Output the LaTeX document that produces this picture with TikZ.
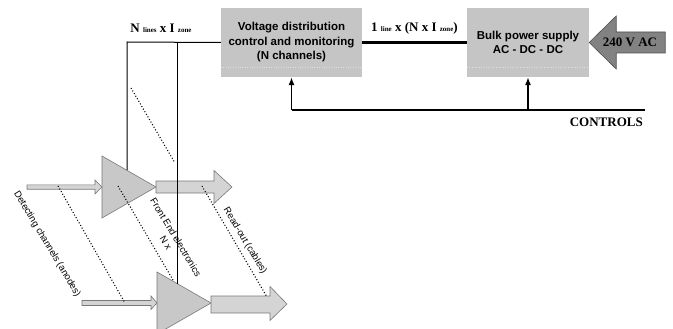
\documentclass[tikz,border=0pt]{standalone}
\usepackage{fontspec}
\setmainfont{Liberation Serif}
\setsansfont{Liberation Sans}
\usetikzlibrary{arrows.meta}

\definecolor{boxgray}{RGB}{197,197,197}
\definecolor{acgray}{RGB}{130,130,130}
\definecolor{ampgray}{RGB}{200,200,200}
\definecolor{pipegray}{RGB}{212,212,212}
\definecolor{rimgray}{RGB}{120,120,120}

\newcommand{\tinysub}[1]{{\fontsize{7}{8}\selectfont #1}}

\begin{document}
\begin{tikzpicture}[x=1pt, y=-1pt,
    unit/.style={fill=boxgray, inner sep=0pt, align=center,
        font=\sffamily\bfseries\fontsize{11.5}{14.5}\selectfont},
    serlabel/.style={font=\bfseries\fontsize{13}{15}\selectfont, inner sep=0pt},
    tilted/.style={rotate=-59, align=center, inner sep=0pt,
        font=\sffamily\fontsize{9.5}{11.5}\selectfont},
    amp/.style={fill=ampgray, draw=rimgray, line width=0.6pt},
    pipe/.style={fill=pipegray, draw=rimgray, line width=0.6pt},
    feed/.style={line width=1pt},
    ctrl/.style={line width=1.2pt, -{Latex[length=8pt,width=6pt]}},
    dots/.style={line width=1.1pt, dash pattern=on 1pt off 2pt}]
    \useasboundingbox (0,0) rectangle (673,329);
    \clip (0,0) rectangle (673,329);
    % Reference coordinates
    \coordinate (ampAin) at (102,187);
    \coordinate (ampAout) at (156,187);
    \coordinate (ampBin) at (157,303);
    \coordinate (ampBout) at (211,303);
    \coordinate (feedA) at (127,42);
    \coordinate (feedB) at (177,42);
    \coordinate (feedAend) at (127,170);
    \coordinate (feedBend) at (177,283.5);
    \coordinate (ctrlend) at (645,110);
    % Supply chain
    \node[unit, minimum width=141pt, minimum height=69pt] (vdc) at (291.5,42.5)
        {Voltage distribution\\control and monitoring\\(N channels)};
    \node[unit, minimum width=122pt, minimum height=69pt] (bps) at (528,42.5)
        {Bulk power supply\\AC - DC - DC};
    \draw[boxgray!55!white, dotted] ([yshift=10pt]vdc.south west) -- ([yshift=10pt]vdc.south east);
    \draw[boxgray!55!white, dotted] ([yshift=10pt]bps.south west) -- ([yshift=10pt]bps.south east);
    \draw[line width=3.6pt] (vdc.east) -- node[serlabel, above=6pt]
        {1 \tinysub{line} x (N x I \tinysub{zone})} (bps.west);
    % Mains input
    \draw[fill=acgray, draw=acgray!60!black, line width=0.6pt, shift={(bps.east)}]
        (0,0) -- (27,-26.5) -- (27,-10.5) -- (76,-10.5) -- (76,10.5)
        -- (27,10.5) -- (27,26.5) -- cycle;
    \node[serlabel] (mains) at (630,42) {240 V AC};
    % Control lines
    \draw[line width=1.2pt] (vdc.south |- ctrlend) -- (ctrlend);
    \draw[ctrl] (vdc.south |- ctrlend) -- (vdc.south);
    \draw[ctrl] (bps.south |- ctrlend) -- (bps.south);
    \node[serlabel, anchor=north east] (ctrllabel) at (643,118) {CONTROLS};
    % Front end amplifiers
    \draw[pipe, shift={(ampAin)}] (-75,-2.2) -- (-7,-2.2) -- (-7,-7) -- (0,0)
        -- (-7,7) -- (-7,2.2) -- (-75,2.2) -- cycle;
    \draw[pipe, shift={(ampBin)}] (-75,-2.5) -- (-6,-2.5) -- (-6,-7) -- (0,0)
        -- (-6,6.5) -- (-6,2.5) -- (-75,2.5) -- cycle;
    \draw[amp] (ampAin) ++(0,-31) -- (ampAout) -- ++(-54,31) -- cycle;
    \draw[amp] (ampBin) ++(0,-31) -- (ampBout) -- ++(-54,31) -- cycle;
    \draw[pipe, shift={(ampAout)}] (0,-6) -- (58,-6) -- (58,-16.5) -- (76,0)
        -- (58,16.5) -- (58,6) -- (0,6) -- cycle;
    \draw[pipe, shift={(ampBout)}] (0,-7) -- (59,-7) -- (59,-16.5) -- (76,1)
        -- (59,17.5) -- (59,10) -- (0,10) -- cycle;
    % Supply lines to the amplifiers
    \draw[feed] (vdc.west) -- (feedA) -- (feedAend);
    \draw[feed] (feedB) -- (feedBend);
    \node[serlabel, anchor=base] (nlabel) at (161,33)
        {N \tinysub{lines} x I \tinysub{zone}};
    % Dotted ellipsis between channels
    \draw[dots] (131,88) -- (175,163);
    \draw[dots] (58,186) -- (125,303);
    \draw[dots] (118,186) -- (173,280);
    \draw[dots] (202,186) -- (267,297);
    % Labels
    \node[tilted] (detlabel) at (47,244) {Detecting channels (anodes)};
    \node[tilted] (felabel) at (171,240) {Front End electronics\\N x};
    \node[tilted] (rolabel) at (245,241) {Read-out (cables)};
\end{tikzpicture}
\end{document}
